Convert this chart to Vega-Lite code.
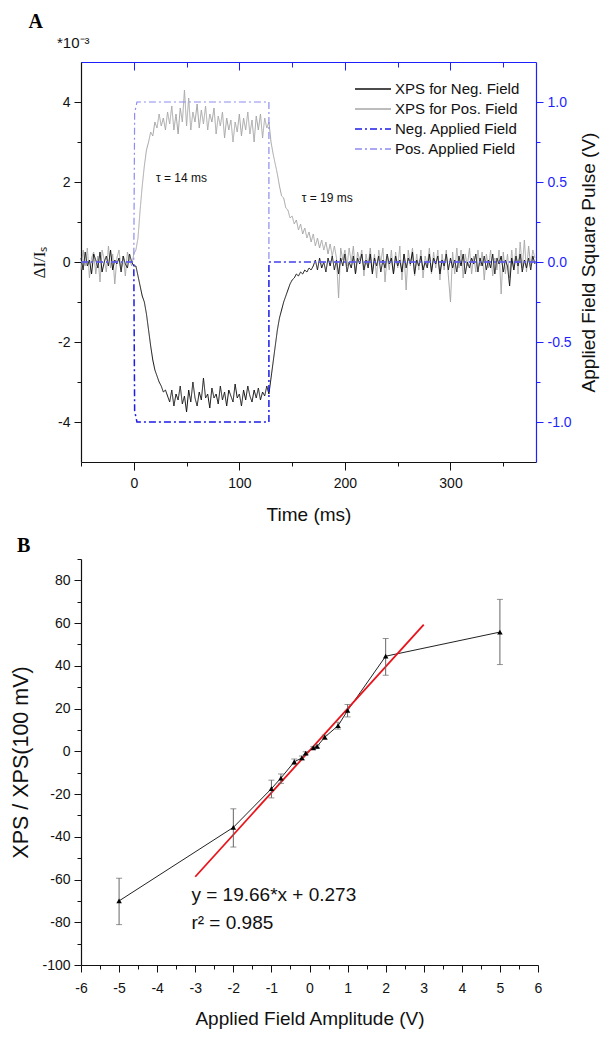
{
  "$schema": "https://vega.github.io/schema/vega-lite/v6.json",
  "background": "white",
  "padding": {"left": 10, "top": 12, "right": 4, "bottom": 4},
  "spacing": 12,
  "resolve": {"scale": {"color": "independent", "strokeDash": "independent"}, "legend": {"color": "independent", "strokeDash": "independent"}},
  "datasets": {
    "trace": [
      {"t":-50,"n":0.1,"p":-0.2},{"t":-48,"n":-0.2,"p":0.3},{"t":-46,"n":0.25,"p":-0.1},{"t":-44,"n":-0.1,"p":0.35},
      {"t":-42,"n":0.05,"p":-0.4},{"t":-40,"n":-0.3,"p":0.1},{"t":-38,"n":0.2,"p":0.25},{"t":-36,"n":0.05,"p":-0.3},
      {"t":-34,"n":-0.15,"p":0.15},{"t":-32,"n":0.25,"p":-0.5},{"t":-30,"n":-0.25,"p":0.3},{"t":-28,"n":0,"p":0.05},
      {"t":-26,"n":0.15,"p":-0.25},{"t":-24,"n":-0.1,"p":0.4},{"t":-22,"n":0.3,"p":-0.15},{"t":-20,"n":-0.2,"p":0.2},
      {"t":-18,"n":0.05,"p":-0.55},{"t":-16,"n":-0.05,"p":0.1},{"t":-14,"n":0.1,"p":0.3},{"t":-12,"n":-0.25,"p":-0.2},
      {"t":-10,"n":0.15,"p":0.15},{"t":-8,"n":-0.05,"p":-0.35},{"t":-6,"n":-0.15,"p":0.25},{"t":-4,"n":0.2,"p":0.05},
      {"t":-2,"n":0,"p":-0.1},{"t":0,"n":-0.1,"p":0.2},
      {"t":2,"n":-0.1,"p":0.3},{"t":4,"n":-0.35,"p":0.6},{"t":6,"n":-0.6,"p":1.3},{"t":8,"n":-0.85,"p":1.9},
      {"t":10,"n":-1.0,"p":2.4},{"t":12,"n":-1.3,"p":2.8},{"t":14,"n":-1.7,"p":3.0},{"t":16,"n":-2.1,"p":3.25},
      {"t":18,"n":-2.45,"p":3.15},{"t":20,"n":-2.7,"p":3.5},{"t":22,"n":-2.85,"p":3.35},{"t":24,"n":-3.0,"p":3.7},
      {"t":26,"n":-3.1,"p":3.4},{"t":28,"n":-3.25,"p":3.6},{"t":30,"n":-3.2,"p":3.3},{"t":32,"n":-3.35,"p":3.75},
      {"t":34,"n":-3.5,"p":3.45},{"t":36,"n":-3.2,"p":3.9},{"t":38,"n":-3.6,"p":3.3},{"t":40,"n":-3.3,"p":3.7},
      {"t":42,"n":-3.45,"p":3.2},{"t":44,"n":-3.1,"p":3.85},{"t":46,"n":-3.55,"p":3.5},{"t":48,"n":-3.35,"p":4.3},
      {"t":50,"n":-3.75,"p":3.4},{"t":52,"n":-3.2,"p":4.1},{"t":54,"n":-3.5,"p":3.3},{"t":56,"n":-3.0,"p":3.75},
      {"t":58,"n":-3.4,"p":3.5},{"t":60,"n":-3.6,"p":3.95},{"t":62,"n":-3.25,"p":3.35},{"t":64,"n":-3.45,"p":3.8},
      {"t":66,"n":-2.9,"p":3.45},{"t":68,"n":-3.4,"p":3.9},{"t":70,"n":-3.3,"p":3.3},{"t":72,"n":-3.65,"p":3.7},
      {"t":74,"n":-3.15,"p":3.5},{"t":76,"n":-3.4,"p":3.85},{"t":78,"n":-3.3,"p":3.2},{"t":80,"n":-3.55,"p":3.65},
      {"t":82,"n":-3.1,"p":3.4},{"t":84,"n":-3.45,"p":3.75},{"t":86,"n":-3.25,"p":3.1},{"t":88,"n":-3.6,"p":3.6},
      {"t":90,"n":-3.2,"p":3.3},{"t":92,"n":-3.35,"p":3.55},{"t":94,"n":-3.5,"p":3.0},{"t":96,"n":-3.05,"p":3.5},
      {"t":98,"n":-3.4,"p":3.25},{"t":100,"n":-3.3,"p":3.7},{"t":102,"n":-3.6,"p":3.15},{"t":104,"n":-3.2,"p":3.6},
      {"t":106,"n":-3.45,"p":3.3},{"t":108,"n":-3.1,"p":3.75},{"t":110,"n":-3.35,"p":3.2},{"t":112,"n":-3.5,"p":3.55},
      {"t":114,"n":-3.2,"p":3.0},{"t":116,"n":-3.4,"p":3.65},{"t":118,"n":-3.15,"p":3.3},{"t":120,"n":-3.45,"p":3.7},
      {"t":122,"n":-3.25,"p":3.1},{"t":124,"n":-3.35,"p":3.6},{"t":126,"n":-3.1,"p":3.35},{"t":128,"n":-3.3,"p":3.5},
      {"t":130,"n":-2.9,"p":3.0},{"t":132,"n":-2.5,"p":2.7},{"t":134,"n":-2.1,"p":2.45},{"t":136,"n":-1.7,"p":2.2},
      {"t":138,"n":-1.4,"p":1.9},{"t":140,"n":-1.2,"p":1.65},{"t":142,"n":-1.0,"p":1.6},{"t":144,"n":-0.85,"p":1.35},
      {"t":146,"n":-0.7,"p":1.3},{"t":148,"n":-0.55,"p":1.1},{"t":150,"n":-0.45,"p":1.15},{"t":152,"n":-0.4,"p":0.95},
      {"t":154,"n":-0.3,"p":1.05},{"t":156,"n":-0.35,"p":0.8},{"t":158,"n":-0.25,"p":0.95},{"t":160,"n":-0.3,"p":0.7},
      {"t":162,"n":-0.2,"p":0.85},{"t":164,"n":-0.25,"p":0.6},{"t":166,"n":-0.15,"p":0.75},{"t":168,"n":-0.2,"p":0.5},
      {"t":170,"n":-0.1,"p":0.7},
      {"t":172,"n":0.05,"p":0.4},{"t":174,"n":-0.2,"p":0.6},{"t":176,"n":0.1,"p":0.35},{"t":178,"n":-0.15,"p":0.55},
      {"t":180,"n":0,"p":0.3},{"t":182,"n":-0.25,"p":0.5},{"t":184,"n":0.1,"p":0.2},{"t":186,"n":-0.1,"p":0.45},
      {"t":188,"n":0.15,"p":0.15},{"t":190,"n":-0.2,"p":0.4},{"t":192,"n":0.05,"p":0.1},{"t":194,"n":-0.3,"p":-0.9},
      {"t":196,"n":0.1,"p":0.35},{"t":198,"n":-0.1,"p":0.05},{"t":200,"n":0.2,"p":0.3},{"t":202,"n":-0.25,"p":-0.1},
      {"t":204,"n":0,"p":0.35},{"t":206,"n":-0.15,"p":0},{"t":208,"n":0.15,"p":0.4},{"t":210,"n":-0.3,"p":-0.3},
      {"t":212,"n":0.1,"p":0.25},{"t":214,"n":-0.05,"p":0.05},{"t":216,"n":0.2,"p":0.3},{"t":218,"n":-0.2,"p":-0.35},
      {"t":220,"n":0.05,"p":0.2},{"t":222,"n":-0.15,"p":-0.1},{"t":224,"n":0.2,"p":0.35},{"t":226,"n":-0.3,"p":-0.25},
      {"t":228,"n":0.1,"p":0.2},{"t":230,"n":-0.1,"p":-0.4},{"t":232,"n":0.15,"p":0.3},{"t":234,"n":-0.25,"p":0},
      {"t":236,"n":0.05,"p":0.35},{"t":238,"n":-0.15,"p":-0.5},{"t":240,"n":0.2,"p":0.15},{"t":242,"n":-0.05,"p":-0.2},
      {"t":244,"n":0.1,"p":0.3},{"t":246,"n":-0.3,"p":-0.3},{"t":248,"n":0.15,"p":0.25},{"t":250,"n":-0.1,"p":-0.15},
      {"t":252,"n":0.05,"p":0.4},{"t":254,"n":-0.25,"p":-0.45},{"t":256,"n":0.2,"p":0.2},{"t":258,"n":-0.15,"p":-0.7},
      {"t":260,"n":0.1,"p":0.3},{"t":262,"n":-0.05,"p":-0.1},{"t":264,"n":0.25,"p":0.35},{"t":266,"n":-0.3,"p":-0.35},
      {"t":268,"n":0.05,"p":0.2},{"t":270,"n":-0.1,"p":-0.2},{"t":272,"n":0.15,"p":0.3},{"t":274,"n":-0.2,"p":-0.4},
      {"t":276,"n":0,"p":0.15},{"t":278,"n":-0.15,"p":-0.1},{"t":280,"n":0.2,"p":0.35},{"t":282,"n":-0.25,"p":-0.3},
      {"t":284,"n":0.1,"p":0.25},{"t":286,"n":-0.05,"p":-0.15},{"t":288,"n":0.15,"p":0.3},{"t":290,"n":-0.3,"p":-0.45},
      {"t":292,"n":0.05,"p":0.2},{"t":294,"n":-0.1,"p":-0.2},{"t":296,"n":0.2,"p":0.3},{"t":298,"n":-0.2,"p":-0.35},
      {"t":300,"n":0.1,"p":-1.0},{"t":302,"n":-0.15,"p":0.25},{"t":304,"n":0.05,"p":-0.3},{"t":306,"n":-0.25,"p":0.35},
      {"t":308,"n":0.15,"p":-0.15},{"t":310,"n":-0.1,"p":0.3},{"t":312,"n":0.2,"p":-0.4},{"t":314,"n":-0.3,"p":0.2},
      {"t":316,"n":0,"p":-0.1},{"t":318,"n":-0.15,"p":0.35},{"t":320,"n":0.1,"p":-0.3},{"t":322,"n":-0.05,"p":0.15},
      {"t":324,"n":0.2,"p":-0.25},{"t":326,"n":-0.25,"p":0.3},{"t":328,"n":0.1,"p":-0.1},{"t":330,"n":-0.1,"p":0.25},
      {"t":332,"n":0.15,"p":-0.45},{"t":334,"n":-0.2,"p":0.2},{"t":336,"n":0.05,"p":-0.15},{"t":338,"n":-0.15,"p":0.3},
      {"t":340,"n":0.2,"p":-0.35},{"t":342,"n":-0.3,"p":0.1},{"t":344,"n":0.1,"p":-0.2},{"t":346,"n":-0.05,"p":0.3},
      {"t":348,"n":0.15,"p":-0.8},{"t":350,"n":-0.25,"p":0.25},{"t":352,"n":0.05,"p":-0.3},{"t":354,"n":-0.1,"p":0.2},
      {"t":356,"n":-0.6,"p":-0.4},{"t":358,"n":0.1,"p":0.3},{"t":360,"n":-0.2,"p":-0.2},{"t":362,"n":0.15,"p":0.35},
      {"t":364,"n":-0.1,"p":-0.3},{"t":366,"n":0.2,"p":0.5},{"t":368,"n":-0.25,"p":-0.15},{"t":370,"n":0.05,"p":0.55},
      {"t":372,"n":-0.15,"p":-0.25},{"t":374,"n":0.1,"p":0.4},{"t":376,"n":-0.2,"p":-0.1},{"t":378,"n":0.15,"p":0.3},
      {"t":380,"n":-0.05,"p":0.1}
    ],
    "fneg": [
      {"i":1,"t":-50,"v":0},{"i":2,"t":0,"v":0},{"i":3,"t":0.8,"v":-0.93},{"i":4,"t":3,"v":-1},
      {"i":5,"t":128,"v":-1},{"i":6,"t":128,"v":0},{"i":7,"t":381,"v":0}
    ],
    "fpos": [
      {"i":1,"t":-50,"v":0},{"i":2,"t":0,"v":0},{"i":3,"t":0.8,"v":0.93},{"i":4,"t":3,"v":1},
      {"i":5,"t":128,"v":1},{"i":6,"t":128,"v":0},{"i":7,"t":381,"v":0}
    ],
    "notesA": [
      {"t":21,"p":2.1,"label":"τ = 14 ms"},
      {"t":159,"p":1.6,"label":"τ = 19 ms"}
    ],
    "expA": [{"t":-50,"p":5,"label":"*10⁻³"}],
    "pts": [
      {"x":-5,"y":-70,"lo":-81.1,"hi":-59.4},
      {"x":-2,"y":-35.6,"lo":-44.8,"hi":-26.9},
      {"x":-1,"y":-17.5,"lo":-21.8,"hi":-13.5},
      {"x":-0.75,"y":-12.5,"lo":-15,"hi":-10.6},
      {"x":-0.4,"y":-4.9,"lo":-6.2,"hi":-3.6},
      {"x":-0.2,"y":-3.1,"lo":-4,"hi":-2.2},
      {"x":-0.1,"y":-0.9,"lo":-1.6,"hi":-0.2},
      {"x":0.1,"y":1.6,"lo":1,"hi":2.2},
      {"x":0.2,"y":2.3,"lo":1.6,"hi":3},
      {"x":0.4,"y":6.6,"lo":5.6,"hi":7.6},
      {"x":0.75,"y":12,"lo":10.4,"hi":13.6},
      {"x":1,"y":19.1,"lo":16.1,"hi":21.9},
      {"x":2,"y":44.5,"lo":35.6,"hi":52.8},
      {"x":5,"y":55.8,"lo":40.6,"hi":71.1}
    ],
    "fit": [{"x":-3,"y":-58.707},{"x":3,"y":59.253}],
    "notesB": [
      {"x":-3.1,"y":-67.2,"label":"y = 19.66*x + 0.273"},
      {"x":-3.1,"y":-80.4,"label":"r² = 0.985"}
    ]
  },
  "vconcat": [
    {
      "width": 455,
      "height": 400,
      "title": {"text": "A", "dx": -2},
      "layer": [
        {
          "encoding": {
            "x": {"field": "t", "type": "quantitative",
              "scale": {"domain": [-50, 381], "nice": false, "zero": false},
              "axis": {"title": "Time (ms)", "orient": "bottom",
                "values": [-50, 0, 50, 100, 150, 200, 250, 300, 350],
                "labelExpr": "datum.value % 100 === 0 ? datum.label : ''",
                "tickSize": {"condition": {"test": "datum.value % 100 !== 0", "value": 4}, "value": 8},
                "labelPadding": 6, "titlePadding": 15}}
          },
          "layer": [
            {
              "data": {"name": "trace"},
              "mark": {"type": "line", "strokeWidth": 1, "interpolate": "linear"},
              "encoding": {
                "y": {"field": "p", "type": "quantitative",
                  "scale": {"domain": [-5, 5], "nice": false, "zero": false},
                  "axis": {"title": "ΔI/Iₛ", "titleFont": "Liberation Serif", "titleFontSize": 17,
                    "values": [-4, -3, -2, -1, 0, 1, 2, 3, 4],
                    "labelExpr": "datum.value % 2 === 0 ? replace(datum.label, '−', '-') : ''",
                    "tickSize": {"condition": {"test": "datum.value % 2 !== 0", "value": 4}, "value": 7},
                    "labelPadding": 4, "titlePadding": 9}},
                "color": {"datum": "XPS for Pos. Field", "type": "nominal",
                  "scale": {"domain": ["XPS for Neg. Field", "XPS for Pos. Field", "Neg. Applied Field", "Pos. Applied Field"],
                    "range": ["#111111", "#a6a6a6", "#1c1ce6", "#8c8cf2"]},
                  "legend": {"orient": "top-right", "title": null, "symbolType": "M-1.8,0L1.8,0", "symbolSize": 400,
                    "symbolStrokeWidth": 1.5, "labelFontSize": 15, "labelFont": "Liberation Sans", "labelColor": "#111",
                    "rowPadding": 1, "labelOffset": 11, "offset": 16, "padding": 0}},
                "strokeDash": {"datum": "XPS for Pos. Field", "type": "nominal",
                  "scale": {"domain": ["XPS for Neg. Field", "XPS for Pos. Field", "Neg. Applied Field", "Pos. Applied Field"],
                    "range": [[1, 0], [1, 0], [7, 3, 2, 3], [7, 3, 2, 3]]}}
              }
            },
            {
              "data": {"name": "trace"},
              "mark": {"type": "line", "strokeWidth": 1},
              "encoding": {
                "y": {"field": "n", "type": "quantitative"},
                "color": {"datum": "XPS for Neg. Field", "type": "nominal"},
                "strokeDash": {"datum": "XPS for Neg. Field", "type": "nominal"}
              }
            },
            {
              "data": {"name": "notesA"},
              "mark": {"type": "text", "align": "left", "baseline": "middle", "fontSize": 12, "font": "Liberation Sans", "color": "#111"},
              "encoding": {"y": {"field": "p", "type": "quantitative"}, "text": {"field": "label"}}
            },
            {
              "data": {"name": "expA"},
              "mark": {"type": "text", "align": "left", "baseline": "bottom", "fontSize": 15, "font": "Liberation Sans", "color": "#111", "dx": -24, "dy": -11},
              "encoding": {"y": {"field": "p", "type": "quantitative"}, "text": {"field": "label"}}
            }
          ]
        },
        {
          "encoding": {
            "x": {"field": "t", "type": "quantitative",
              "scale": {"domain": [-50, 381], "nice": false, "zero": false},
              "axis": {"orient": "top", "title": null, "labels": false,
                "values": [-50, 0, 50, 100, 150, 200, 250, 300, 350],
                "tickSize": {"condition": {"test": "datum.value % 100 !== 0", "value": -5}, "value": -8},
                "domainColor": "#1f1fff", "tickColor": "#1f1fff"}},
            "y": {"field": "v", "type": "quantitative",
              "scale": {"domain": [-1.25, 1.25], "nice": false, "zero": false},
              "axis": {"orient": "right", "title": "Applied Field Square Pulse (V)", "titleAngle": 270, "titleBaseline": "top",
                "values": [-1, -0.75, -0.5, -0.25, 0, 0.25, 0.5, 0.75, 1],
                "labelExpr": "abs(datum.value * 2 - round(datum.value * 2)) < 0.001 ? replace(format(datum.value, '.1f'), '−', '-') : ''",
                "tickSize": {"condition": {"test": "abs(datum.value * 2 - round(datum.value * 2)) > 0.001", "value": 4}, "value": 7},
                "domainColor": "#1f1fff", "tickColor": "#1f1fff", "labelColor": "#1f1fff",
                "labelPadding": 4, "titlePadding": 8}},
            "order": {"field": "i", "type": "quantitative"}
          },
          "layer": [
            {
              "data": {"name": "fneg"},
              "mark": {"type": "line", "strokeWidth": 1.5},
              "encoding": {
                "color": {"datum": "Neg. Applied Field", "type": "nominal"},
                "strokeDash": {"datum": "Neg. Applied Field", "type": "nominal"}
              }
            },
            {
              "data": {"name": "fpos"},
              "mark": {"type": "line", "strokeWidth": 1.2},
              "encoding": {
                "color": {"datum": "Pos. Applied Field", "type": "nominal"},
                "strokeDash": {"datum": "Pos. Applied Field", "type": "nominal"}
              }
            }
          ]
        }
      ],
      "resolve": {"scale": {"y": "independent"}, "axis": {"x": "independent", "y": "independent"}}
    },
    {
      "width": 457,
      "height": 406,
      "title": {"text": "B", "dx": 6, "offset": -4},
      "encoding": {
        "x": {"field": "x", "type": "quantitative",
          "scale": {"domain": [-6, 6], "nice": false, "zero": false},
          "axis": {"title": "Applied Field Amplitude (V)",
            "values": [-6, -5.5, -5, -4.5, -4, -3.5, -3, -2.5, -2, -1.5, -1, -0.5, 0, 0.5, 1, 1.5, 2, 2.5, 3, 3.5, 4, 4.5, 5, 5.5, 6],
            "labelExpr": "datum.value % 1 === 0 ? replace(format(datum.value, 'd'), '−', '-') : ''",
            "tickSize": {"condition": {"test": "datum.value % 1 !== 0", "value": 4}, "value": 7},
            "labelPadding": 9, "titlePadding": 14}},
        "y": {"field": "y", "type": "quantitative",
          "scale": {"domain": [-100, 90], "nice": false, "zero": false},
          "axis": {"title": "XPS / XPS(100 mV)", "titleFontSize": 21.5,
            "values": [-100, -90, -80, -70, -60, -50, -40, -30, -20, -10, 0, 10, 20, 30, 40, 50, 60, 70, 80, 90],
            "labelExpr": "datum.value % 20 === 0 ? replace(format(datum.value, 'd'), '−', '-') : ''",
            "tickSize": {"condition": {"test": "datum.value % 20 !== 0", "value": 4}, "value": 7},
            "labelPadding": 4, "titlePadding": 9}}
      },
      "layer": [
        {"data": {"name": "pts"}, "mark": {"type": "line", "color": "#222", "strokeWidth": 1}},
        {"data": {"name": "fit"}, "mark": {"type": "line", "color": "#e8141c", "strokeWidth": 1.8}},
        {
          "data": {"name": "pts"},
          "mark": {"type": "rule", "color": "#666", "strokeWidth": 1},
          "encoding": {"y": {"field": "lo", "type": "quantitative", "title": "XPS / XPS(100 mV)"}, "y2": {"field": "hi"}}
        },
        {
          "data": {"name": "pts"},
          "mark": {"type": "tick", "orient": "horizontal", "color": "#666", "size": 6, "thickness": 1},
          "encoding": {"y": {"field": "lo", "type": "quantitative", "title": "XPS / XPS(100 mV)"}}
        },
        {
          "data": {"name": "pts"},
          "mark": {"type": "tick", "orient": "horizontal", "color": "#666", "size": 6, "thickness": 1},
          "encoding": {"y": {"field": "hi", "type": "quantitative", "title": "XPS / XPS(100 mV)"}}
        },
        {"data": {"name": "pts"}, "mark": {"type": "point", "shape": "triangle-up", "filled": true, "color": "#000", "size": 30, "opacity": 1}},
        {
          "data": {"name": "notesB"},
          "mark": {"type": "text", "align": "left", "baseline": "middle", "fontSize": 19, "font": "Liberation Sans", "color": "#111"},
          "encoding": {"text": {"field": "label"}}
        }
      ]
    }
  ],
  "config": {
    "view": {"stroke": null},
    "font": "Liberation Sans",
    "title": {"font": "Liberation Serif", "fontSize": 20, "fontWeight": "bold", "anchor": "start", "frame": "bounds", "offset": 4, "color": "#000"},
    "axis": {"labelFont": "Liberation Sans", "labelFontSize": 14, "titleFont": "Liberation Sans", "titleFontSize": 19,
      "titleFontWeight": "normal", "labelColor": "#111", "titleColor": "#111", "domainColor": "#111", "tickColor": "#111",
      "grid": false, "domainWidth": 1.2, "tickWidth": 1, "labelFlush": false, "labelOverlap": false}
  }
}
